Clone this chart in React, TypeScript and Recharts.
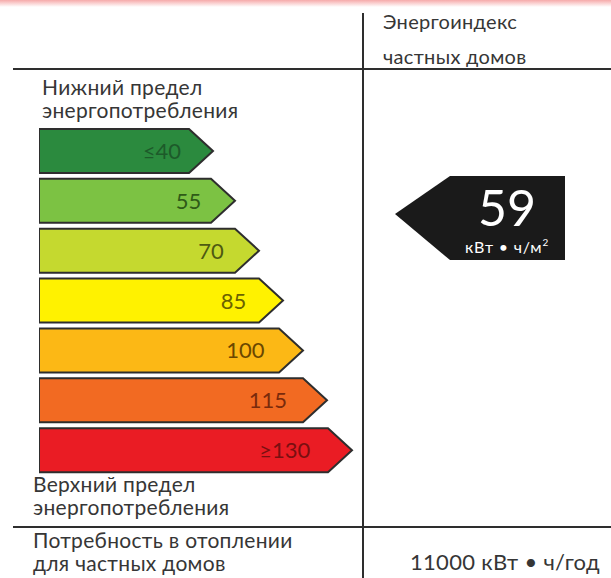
import React from "react";
import { ComposedChart, Bar, XAxis, YAxis, ReferenceDot } from "recharts";

const FONT = "Lato, 'Open Sans', sans-serif";

// energy classes, top (best) to bottom (worst)
const classLabels = ["≤40", "55", "70", "85", "100", "115", "≥130"];
const classLevels = [40, 55, 70, 85, 100, 115, 130];
// arrow length of each class band (chart units)
const classLengths = [174, 196, 220, 244, 264, 288, 313];

const CLASS_COLORS = ["#2b8a3e", "#7cc243", "#c5d92f", "#fff200", "#fcb815", "#f26a22", "#ea1c24"];
const LABEL_COLORS = ["#1d5a2a", "#2f5a17", "#4f5a12", "#6b6200", "#6b4700", "#7a2a0c", "#7a0f10"];

// energy index of private houses
const houseIndex = 59;
const houseIndexUnit = "кВт • ч/м";
const heatDemand = "11000 кВт • ч/год";

const data = classLabels.map((label, i) => ({
  label,
  level: classLevels[i],
  length: classLengths[i],
}));

function ArrowBar(props: any) {
  const { x, y, width, height, index } = props;
  const tip = 24;
  const pts = [
    [x, y],
    [x + width - tip, y],
    [x + width, y + height / 2],
    [x + width - tip, y + height],
    [x, y + height],
  ]
    .map((p) => p.join(","))
    .join(" ");
  return (
    <g>
      <polygon points={pts} fill={CLASS_COLORS[index]} stroke="#2e2e2e" strokeWidth={2} strokeLinejoin="miter" />
      <text
        x={x + width - 32 - index * 1.6}
        y={y + height / 2 + 8}
        textAnchor="end"
        fontFamily={FONT}
        fontSize={22}
        fill={LABEL_COLORS[index]}
      >
        {classLabels[index]}
      </text>
    </g>
  );
}

function IndexMarker(props: any) {
  const { cx, cy } = props;
  const pts = [
    [cx, cy],
    [cx + 55, cy - 38],
    [cx + 170, cy - 38],
    [cx + 170, cy + 46],
    [cx + 55, cy + 46],
  ]
    .map((p) => p.join(","))
    .join(" ");
  return (
    <g>
      <polygon points={pts} fill="#1a1a1a" />
      <text x={cx + 112} y={cy + 12} textAnchor="middle" fontFamily={FONT} fontSize={50} fill="#fff">
        {houseIndex}
      </text>
      <text x={cx + 112} y={cy + 39} textAnchor="middle" fontFamily={FONT} fontSize={16} letterSpacing={0.8} fill="#fff">
        {houseIndexUnit}
        <tspan fontSize={10} dy={-7}>2</tspan>
      </text>
    </g>
  );
}

export default function App() {
  const txt = { fontFamily: FONT, fontSize: 21, fill: "#363636", letterSpacing: 0.3 };
  return (
    <div style={{ position: "absolute", left: 0, top: 0, width: 611, height: 578, background: "#fff" }}>
      <ComposedChart
        layout="vertical"
        width={611}
        height={578}
        data={data}
        margin={{ top: 126, right: 0, bottom: 103, left: 39 }}
      >
        <XAxis type="number" domain={[0, 572]} allowDataOverflow hide />
        <YAxis type="number" dataKey="level" domain={[32.5, 137.5]} allowDataOverflow hide />
        <Bar dataKey="length" barSize={44} isAnimationActive={false} shape={ArrowBar} />
        <ReferenceDot x={356} y={houseIndex} r={1} ifOverflow="visible" shape={IndexMarker} />
      </ComposedChart>

      <svg width={611} height={578} style={{ position: "absolute", left: 0, top: 0, pointerEvents: "none" }}>
        <defs>
          <linearGradient id="topband" x1="0" y1="0" x2="0" y2="1">
            <stop offset="0%" stopColor="#f6aaaa" />
            <stop offset="100%" stopColor="#ffffff" />
          </linearGradient>
        </defs>
        <rect x={0} y={0} width={611} height={7} fill="url(#topband)" />

        <line x1={363} y1={13} x2={363} y2={578} stroke="#2e2e2e" strokeWidth={2} />
        <line x1={13} y1={69} x2={611} y2={69} stroke="#2e2e2e" strokeWidth={2} />
        <line x1={13} y1={527} x2={611} y2={527} stroke="#2e2e2e" strokeWidth={2} />

        <text x={383} y={29} {...txt} fontSize={20}>Энергоиндекс</text>
        <text x={383} y={64} {...txt} fontSize={20}>частных домов</text>

        <text x={42} y={95} {...txt}>Нижний предел</text>
        <text x={42} y={118} {...txt}>энергопотребления</text>

        <text x={33} y={492} {...txt}>Верхний предел</text>
        <text x={33} y={515} {...txt}>энергопотребления</text>

        <text x={33} y={548} {...txt}>Потребность в отоплении</text>
        <text x={33} y={571} {...txt}>для частных домов</text>

        <text x={410} y={570} {...txt} fontSize={22}>{heatDemand}</text>
      </svg>
    </div>
  );
}
